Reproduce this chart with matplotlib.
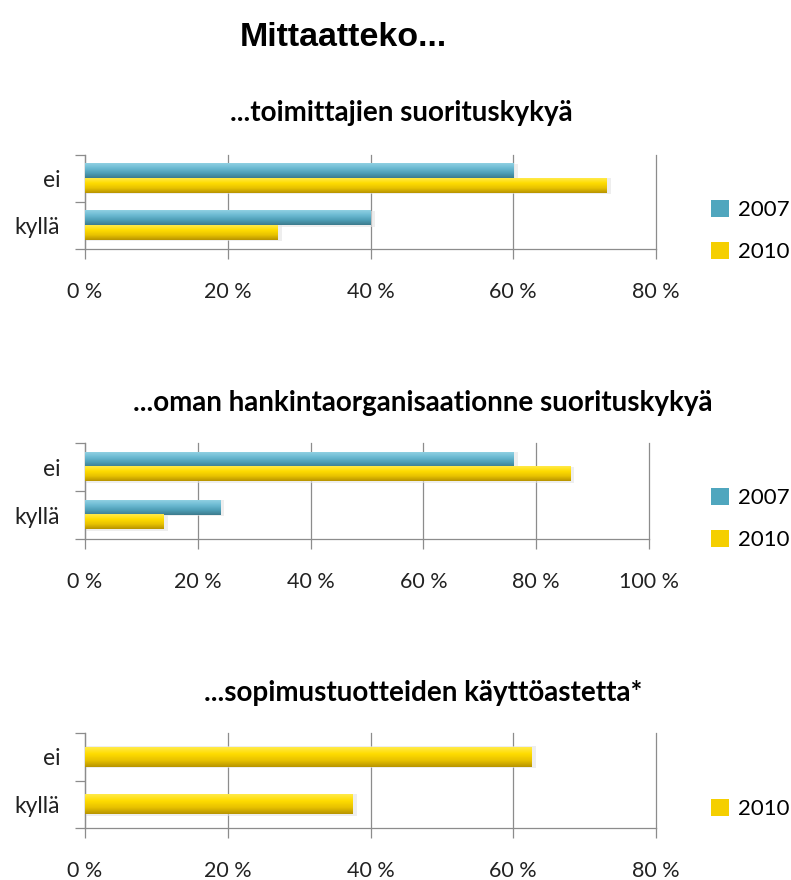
import matplotlib
matplotlib.use('Agg')
import matplotlib.pyplot as plt
import numpy as np
from matplotlib.colors import LinearSegmentedColormap
from matplotlib.patches import Patch

# ---- data ----
categories = ['kyllä', 'ei']
years = ['2007', '2010']
c1_2007 = [40, 60]
c1_2010 = [27, 73]
c2_2007 = [24, 76]
c2_2010 = [14, 86]
c3_2010 = [37.5, 62.5]
main_title = 'Mittaatteko...'
subtitles = ['...toimittajien suorituskykyä',
             '...oman hankintaorganisaationne suorituskykyä',
             '...sopimustuotteiden käyttöastetta*']
xmax = [80, 100, 80]

FONT = ['Lato', 'DejaVu Sans']
plt.rcParams['font.family'] = FONT
GRID = '#8c8c8c'

cm_blue = LinearSegmentedColormap.from_list('b', ['#3c7b8d', '#4f9fb7', '#6cbad2', '#8fd0e2'])
cm_yel = LinearSegmentedColormap.from_list('y', ['#b89400', '#e8c200', '#ffdc00', '#ffea4a'])
cm_shadow = LinearSegmentedColormap.from_list('s', ['#e4e4e4', '#e4e4e4'])
base = {'2007': '#4fa6be', '2010': '#f5cf00'}
cmaps = {'2007': cm_blue, '2010': cm_yel}

fig = plt.figure(figsize=(7.91, 8.8), dpi=100)
W, H = 791, 880

def ax_at(left, top, right, bottom):
    return fig.add_axes([left / W, 1 - bottom / H, (right - left) / W, (bottom - top) / H])

def grad_bars(ax, container, year):
    grad = np.linspace(0, 1, 64).reshape(-1, 1)
    for p in container.patches:
        x0, y0, w, h = p.get_x(), p.get_y(), p.get_width(), p.get_height()
        ax.imshow(grad, extent=[x0, x0 + w + 0.6, y0 - 0.08 * h, y0 + h], origin='lower',
                  cmap=cm_shadow, aspect='auto', zorder=2.5, alpha=0.6)
        ax.imshow(grad, extent=[x0, x0 + w, y0, y0 + h], origin='lower', cmap=cmaps[year],
                  aspect='auto', zorder=3)
        p.set_visible(False)

def style(ax, xm):
    ax.set_xlim(0, xm)
    ax.set_ylim(-0.5, 1.5)
    ax.set_xticks(np.arange(0, xm + 1, 20))
    ax.set_xticklabels([f'{v} %' for v in range(0, xm + 1, 20)])
    ax.set_yticks([-0.5, 0.5, 1.5])
    ax.set_yticklabels([])
    ax.set_yticks([0, 1], minor=True)
    ax.set_yticklabels(categories, minor=True)
    ax.tick_params(axis='y', which='major', length=7, color=GRID, width=0.9)
    ax.tick_params(axis='y', which='minor', length=0, pad=18, labelsize=16.5, labelcolor='#222222')
    ax.tick_params(axis='x', length=7, color=GRID, width=0.9, pad=17, labelsize=15.5,
                   labelcolor='#222222')
    for s in ['top', 'right']:
        ax.spines[s].set_visible(False)
    for s in ['left', 'bottom']:
        ax.spines[s].set_color(GRID)
        ax.spines[s].set_linewidth(0.9)
    ax.grid(axis='x', color=GRID, linewidth=0.9)
    for gl in ax.get_xgridlines():
        gl.set_clip_on(False)
    ax.set_axisbelow(True)

y = np.arange(len(categories))

# chart 1
ax1 = ax_at(85, 155, 656, 249)
bh = 0.3
b = ax1.barh(y + bh / 2, c1_2007, height=bh, color=base['2007'])
grad_bars(ax1, b, '2007')
b = ax1.barh(y - bh / 2, c1_2010, height=bh, color=base['2010'])
grad_bars(ax1, b, '2010')
style(ax1, xmax[0])

# chart 2
ax2 = ax_at(85, 443, 649, 539)
b = ax2.barh(y + bh / 2, c2_2007, height=bh, color=base['2007'])
grad_bars(ax2, b, '2007')
b = ax2.barh(y - bh / 2, c2_2010, height=bh, color=base['2010'])
grad_bars(ax2, b, '2010')
style(ax2, xmax[1])

# chart 3
ax3 = ax_at(85, 733, 656, 828)
b = ax3.barh(y, c3_2010, height=0.42, color=base['2010'])
grad_bars(ax3, b, '2010')
style(ax3, xmax[2])

# legends
def legend(yrs, ycenter):
    handles = [Patch(facecolor=base[yr], edgecolor='none', label=yr) for yr in yrs]
    fig.legend(handles=handles, loc='center left', bbox_to_anchor=(711 / W, 1 - ycenter / H),
               frameon=False, fontsize=16, handlelength=0.8, handleheight=0.8,
               handletextpad=0.4, labelspacing=1.0, borderpad=0, borderaxespad=0)

legend(years, 231)
legend(years, 519)
legend(['2010'], 809)

# titles
fig.text(343 / W, 1 - 38 / H, main_title, ha='center', va='center', fontsize=24.5,
         fontweight='bold', family=['Liberation Sans', 'DejaVu Sans'], color='black')
for yy, t, cx in zip([113, 403, 693], subtitles, [401, 423, 423]):
    fig.text(cx / W, 1 - yy / H, t, ha='center', va='center', fontsize=20,
             fontweight='bold', color='black')

fig.savefig('out.png', dpi=100)
